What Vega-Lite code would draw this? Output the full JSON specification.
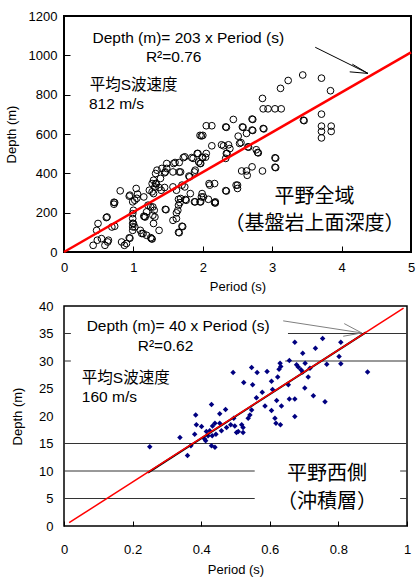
{
  "$schema": "https://vega.github.io/schema/vega-lite/v6.json",
  "autosize": {"type": "pad"},
  "padding": {"left": 4, "top": 9, "right": 0, "bottom": 0},
  "background": "white",
  "config": {"font": "Liberation Sans", "axis": {"labelColor": "#000", "titleColor": "#000", "labelFont": "Liberation Sans", "titleFont": "Liberation Sans", "titleFontWeight": "normal", "labelFontSize": 13, "titleFontSize": 13, "labelFlush": false, "labelBound": false, "labelOverlap": false}},
  "datasets": {
    "top_pts": [
      {"p":3.23,"d":872},{"p":3.12,"d":832},{"p":3.44,"d":900},{"p":3.71,"d":884},{"p":3.84,"d":820},{"p":2.86,"d":781},
      {"p":2.87,"d":728},{"p":2.94,"d":728},{"p":3.04,"d":728},{"p":3.13,"d":728},{"p":3.45,"d":670},{"p":3.46,"d":668},
      {"p":3.71,"d":701},{"p":3.71,"d":640},{"p":3.85,"d":640},{"p":3.71,"d":613},{"p":3.85,"d":613},{"p":3.71,"d":580},
      {"p":2.44,"d":674},{"p":2.71,"d":676},{"p":2.72,"d":674},{"p":2.33,"d":636},{"p":2.34,"d":634},{"p":2.57,"d":636},{"p":2.58,"d":634},
      {"p":2.71,"d":620},{"p":2.72,"d":618},{"p":2.87,"d":628},{"p":2.88,"d":626},{"p":2.05,"d":642},{"p":2.13,"d":642},
      {"p":1.96,"d":593},{"p":2.0,"d":593},{"p":1.98,"d":590},{"p":2.51,"d":589},{"p":2.63,"d":603},{"p":2.27,"d":545},{"p":2.37,"d":545},
      {"p":2.30,"d":540},{"p":2.13,"d":540},{"p":2.55,"d":556},{"p":2.77,"d":520},
      {"p":2.39,"d":526},{"p":2.53,"d":552},{"p":2.65,"d":535},{"p":2.66,"d":533},{"p":2.34,"d":501},{"p":2.33,"d":476},
      {"p":1.93,"d":501},{"p":2.05,"d":501},{"p":1.99,"d":482},{"p":2.04,"d":482},{"p":1.96,"d":450},{"p":1.86,"d":476},
      {"p":1.74,"d":484},{"p":1.60,"d":455},{"p":1.66,"d":455},{"p":1.57,"d":407},{"p":1.66,"d":407},{"p":1.45,"d":403},
      {"p":1.46,"d":407},{"p":1.34,"d":416},{"p":1.48,"d":425},{"p":1.31,"d":331},{"p":1.29,"d":365},{"p":1.37,"d":328},
      {"p":1.45,"d":328},{"p":1.57,"d":331},{"p":1.62,"d":314},{"p":1.74,"d":331},{"p":1.81,"d":382},{"p":1.88,"d":407},
      {"p":2.56,"d":412},{"p":2.63,"d":412},{"p":2.64,"d":390},{"p":2.71,"d":433},{"p":2.79,"d":506},{"p":2.80,"d":504},
      {"p":2.86,"d":412},{"p":3.04,"d":479},{"p":3.05,"d":477},{"p":3.04,"d":431},{"p":3.05,"d":429},{"p":2.50,"d":340},
      {"p":2.50,"d":323},{"p":2.33,"d":312},{"p":2.34,"d":310},{"p":2.17,"d":348},{"p":2.10,"d":340},{"p":2.09,"d":348},
      {"p":2.17,"d":251},{"p":2.18,"d":249},{"p":2.08,"d":268},{"p":1.98,"d":280},{"p":1.99,"d":297},{"p":1.96,"d":255},
      {"p":1.88,"d":255},{"p":1.76,"d":263},{"p":1.65,"d":268},{"p":1.67,"d":251},{"p":1.65,"d":238},{"p":1.64,"d":212},
      {"p":1.62,"d":199},{"p":1.57,"d":161},{"p":1.62,"d":170},{"p":1.65,"d":100},{"p":1.66,"d":98},{"p":1.70,"d":131},
      {"p":1.71,"d":129},{"p":1.46,"d":217},{"p":1.47,"d":215},{"p":1.31,"d":178},{"p":1.28,"d":229},{"p":1.37,"d":110},
      {"p":1.26,"d":68},{"p":1.27,"d":66},{"p":1.19,"d":85},{"p":1.14,"d":94},{"p":1.15,"d":182},{"p":1.16,"d":180},
      {"p":1.19,"d":204},{"p":1.21,"d":238},{"p":1.15,"d":280},{"p":1.05,"d":273},{"p":1.04,"d":323},{"p":0.99,"d":170},
      {"p":0.99,"d":146},{"p":0.99,"d":128},{"p":0.99,"d":110},{"p":0.99,"d":255},{"p":0.95,"d":289},{"p":0.81,"d":311},
      {"p":0.73,"d":131},{"p":0.72,"d":253},{"p":0.73,"d":251},{"p":0.72,"d":243},{"p":0.62,"d":178},{"p":0.49,"d":145},
      {"p":0.47,"d":110},{"p":0.54,"d":68},{"p":0.63,"d":51},{"p":0.42,"d":34},{"p":0.59,"d":34},{"p":0.83,"d":51},
      {"p":0.87,"d":34},{"p":0.90,"d":43},{"p":0.94,"d":72},{"p":0.95,"d":70},
      {"p":1.06,"d":294},{"p":1.02,"d":263},{"p":1.25,"d":73},{"p":1.29,"d":145},{"p":1.28,"d":187},{"p":1.30,"d":212},
      {"p":1.25,"d":229},{"p":1.23,"d":314},{"p":1.27,"d":306},{"p":1.29,"d":297},{"p":1.27,"d":348},{"p":1.32,"d":348},
      {"p":1.33,"d":346},{"p":1.40,"d":314},{"p":1.39,"d":374},{"p":1.32,"d":399},{"p":1.70,"d":340},{"p":1.41,"d":425},
      {"p":1.48,"d":450},{"p":1.58,"d":450},{"p":1.68,"d":407},{"p":1.72,"d":480},{"p":1.84,"d":480},{"p":1.80,"d":386},
      {"p":1.89,"d":416},{"p":1.92,"d":501},{"p":1.94,"d":458},{"p":1.97,"d":450},{"p":2.00,"d":480},{"p":1.82,"d":297},
      {"p":1.89,"d":255},{"p":1.97,"d":255},{"p":2.01,"d":280},{"p":2.18,"d":255},{"p":2.48,"d":340},{"p":2.35,"d":501},
      {"p":1.68,"d":272},{"p":1.75,"d":267},{"p":1.17,"d":178},{"p":1.12,"d":94},{"p":1.10,"d":110},{"p":1.02,"d":127},
      {"p":1.00,"d":145},{"p":0.94,"d":284},{"p":0.61,"d":175},{"p":0.69,"d":127},{"p":0.48,"d":60},{"p":0.64,"d":60},
      {"p":0.99,"d":195},{"p":1.00,"d":212}
    ],
    "bot_pts": [
      {"p":0.673,"d":33.4},{"p":0.754,"d":34.1},{"p":0.807,"d":33.4},{"p":0.733,"d":32.3},{"p":0.696,"d":31.4},{"p":0.802,"d":30.8},
      {"p":0.657,"d":30.1},{"p":0.630,"d":29.6},{"p":0.632,"d":29.0},{"p":0.678,"d":29.3},{"p":0.683,"d":28.9},{"p":0.703,"d":29.6},
      {"p":0.766,"d":29.4},{"p":0.807,"d":29.5},{"p":0.691,"d":28.4},{"p":0.696,"d":28.0},{"p":0.717,"d":28.7},{"p":0.885,"d":28.0},
      {"p":0.563,"d":27.9},{"p":0.592,"d":28.1},{"p":0.547,"d":28.8},{"p":0.627,"d":28.5},{"p":0.623,"d":27.1},{"p":0.712,"d":27.1},
      {"p":0.654,"d":25.7},{"p":0.702,"d":25.1},{"p":0.605,"d":26.3},{"p":0.550,"d":25.7},{"p":0.608,"d":24.8},{"p":0.578,"d":24.3},
      {"p":0.727,"d":23.7},{"p":0.657,"d":23.1},{"p":0.673,"d":23.1},{"p":0.620,"d":22.8},{"p":0.561,"d":23.3},{"p":0.761,"d":22.6},
      {"p":0.586,"d":21.8},{"p":0.634,"d":21.8},{"p":0.605,"d":21.0},{"p":0.547,"d":21.1},{"p":0.542,"d":20.2},{"p":0.615,"d":19.6},
      {"p":0.673,"d":19.9},{"p":0.618,"d":18.7},{"p":0.631,"d":18.4},{"p":0.493,"d":27.9},{"p":0.524,"d":26.1},{"p":0.495,"d":19.6},
      {"p":0.430,"d":22.1},{"p":0.471,"d":21.2},{"p":0.384,"d":20.2},{"p":0.386,"d":18.4},{"p":0.401,"d":18.1},{"p":0.433,"d":18.2},
      {"p":0.454,"d":18.7},{"p":0.498,"d":18.2},{"p":0.518,"d":18.4},{"p":0.522,"d":17.9},{"p":0.486,"d":18.4},{"p":0.454,"d":20.4},
      {"p":0.338,"d":16.1},{"p":0.381,"d":16.7},{"p":0.415,"d":17.2},{"p":0.420,"d":16.4},{"p":0.410,"d":15.8},{"p":0.413,"d":15.5},
      {"p":0.432,"d":16.4},{"p":0.443,"d":16.7},{"p":0.459,"d":17.3},{"p":0.474,"d":17.9},{"p":0.503,"d":17.0},{"p":0.522,"d":17.0},
      {"p":0.508,"d":17.2},{"p":0.537,"d":19.6},{"p":0.370,"d":14.6},{"p":0.430,"d":14.6},{"p":0.440,"d":14.3},{"p":0.250,"d":14.4},
      {"p":0.360,"d":12.8},{"p":0.425,"d":17.3},{"p":0.440,"d":18.7}
    ],
    "top_lines": [
      {"kind":"fit","x":0,"y":0,"x2":5,"y2":1015},
      {"kind":"arrow","x":3.62,"y":1041,"x2":4.38,"y2":908},
      {"kind":"arrow","x":4.155,"y":955,"x2":4.38,"y2":908},
      {"kind":"arrow","x":4.117,"y":916,"x2":4.38,"y2":908}
    ],
    "bot_lines": [
      {"kind":"grid","x":0.653,"y":35,"x2":1,"y2":35},
      {"kind":"grid","x":0,"y":35,"x2":0.02,"y2":35},
      {"kind":"grid","x":0.645,"y":30,"x2":1,"y2":30},
      {"kind":"grid","x":0,"y":30,"x2":0.02,"y2":30},
      {"kind":"grid","x":0,"y":15,"x2":1,"y2":15},
      {"kind":"grid","x":0,"y":10,"x2":0.556,"y2":10},
      {"kind":"grid","x":0.98,"y":10,"x2":1,"y2":10},
      {"kind":"grid","x":0,"y":5,"x2":0.556,"y2":5},
      {"kind":"grid","x":0.98,"y":5,"x2":1,"y2":5},
      {"kind":"arrow","x":0.639,"y":37.3,"x2":0.868,"y2":35.1},
      {"kind":"arrow","x":0.817,"y":36.8,"x2":0.868,"y2":35.1},
      {"kind":"arrow","x":0.814,"y":34.5,"x2":0.868,"y2":35.1},
      {"kind":"trend","x":0.245,"y":9.7,"x2":0.88,"y2":35.2},
      {"kind":"fit","x":0.015,"y":0.6,"x2":0.99,"y2":39.6}
    ],
    "top_text": [
      {"kind":"small","t":"Depth (m)= 203 x Period (s)","x":0.41,"y":1086},
      {"kind":"small","t":"R²=0.76","x":1.18,"y":991},
      {"kind":"small","t":"平均S波速度","x":0.37,"y":849},
      {"kind":"small","t":"812 m/s","x":0.36,"y":752},
      {"kind":"big","t":"平野全域","x":3.61,"y":279},
      {"kind":"big","t":"（基盤岩上面深度）","x":3.61,"y":141}
    ],
    "bot_text": [
      {"kind":"small","t":"Depth (m)= 40 x Period (s)","x":0.066,"y":36.3},
      {"kind":"small","t":"R²=0.62","x":0.215,"y":32.8},
      {"kind":"small","t":"平均S波速度","x":0.052,"y":27.0},
      {"kind":"small","t":"160 m/s","x":0.052,"y":23.5},
      {"kind":"big","t":"平野西側","x":0.767,"y":9.5},
      {"kind":"big","t":"（沖積層）","x":0.767,"y":4.4}
    ]
  },
  "vconcat": [
    {
      "width": 347,
      "height": 236,
      "view": {"stroke": "black", "strokeWidth": 2},
      "encoding": {
        "x": {"field": "x", "type": "quantitative", "scale": {"domain": [0, 5], "nice": false, "zero": false},
          "axis": {"title": "Period (s)", "values": [0,1,2,3,4,5], "format": "d", "grid": false, "domain": false, "tickSize": -6, "tickColor": "#000", "tickWidth": 1, "labelPadding": 15, "titlePadding": 6}},
        "y": {"field": "y", "type": "quantitative", "scale": {"domain": [0, 1200], "nice": false, "zero": false},
          "axis": {"title": "Depth (m)", "values": [0,200,400,600,800,1000,1200], "format": "d", "grid": false, "domain": false, "tickSize": -6, "tickColor": "#000", "tickWidth": 1, "labelPadding": 13, "titlePadding": 10}}
      },
      "layer": [
        {"data": {"name": "top_pts"}, "mark": {"type": "point", "shape": "circle", "filled": false, "stroke": "#000", "strokeWidth": 1, "size": 45, "opacity": 1},
          "encoding": {"x": {"field": "p", "type": "quantitative"}, "y": {"field": "d", "type": "quantitative"}}},
        {"data": {"name": "top_lines"}, "transform": [{"filter": "datum.kind == 'fit'"}], "mark": {"type": "rule", "color": "#ff0000", "strokeWidth": 2.5},
          "encoding": {"x2": {"field": "x2"}, "y2": {"field": "y2"}}},
        {"data": {"name": "top_lines"}, "transform": [{"filter": "datum.kind == 'arrow'"}], "mark": {"type": "rule", "color": "#000", "strokeWidth": 1},
          "encoding": {"x2": {"field": "x2"}, "y2": {"field": "y2"}}},
        {"data": {"name": "top_text"}, "transform": [{"filter": "datum.kind == 'small'"}], "mark": {"type": "text", "align": "left", "baseline": "middle", "fontSize": 15.5, "font": "Liberation Sans, Noto Sans CJK JP", "color": "#000"},
          "encoding": {"text": {"field": "t"}}},
        {"data": {"name": "top_text"}, "transform": [{"filter": "datum.kind == 'big'"}], "mark": {"type": "text", "align": "center", "baseline": "middle", "fontSize": 20, "font": "Noto Sans CJK JP", "color": "#000"},
          "encoding": {"text": {"field": "t"}}}
      ]
    },
    {
      "width": 343,
      "height": 220,
      "view": {"stroke": "black", "strokeWidth": 1.5},
      "encoding": {
        "x": {"field": "x", "type": "quantitative", "scale": {"domain": [0, 1], "nice": false, "zero": false},
          "axis": {"title": "Period (s)", "values": [0,0.2,0.4,0.6,0.8,1], "format": "~g", "grid": false, "domain": false, "tickSize": -5, "tickColor": "#000", "tickWidth": 1, "labelPadding": 22, "titlePadding": 7}},
        "y": {"field": "y", "type": "quantitative", "scale": {"domain": [0, 40], "nice": false, "zero": false},
          "axis": {"title": "Depth (m)", "values": [0,5,10,15,20,25,30,35,40], "format": "d", "grid": false, "domain": false, "ticks": false, "tickSize": 0, "labelPadding": 11, "titlePadding": 14}}
      },
      "layer": [
        {"data": {"name": "bot_lines"}, "transform": [{"filter": "datum.kind == 'grid'"}], "mark": {"type": "rule", "color": "#333", "strokeWidth": 1},
          "encoding": {"x2": {"field": "x2"}, "y2": {"field": "y2"}}},
        {"data": {"name": "bot_lines"}, "transform": [{"filter": "datum.kind == 'arrow'"}], "mark": {"type": "rule", "color": "#808080", "strokeWidth": 1},
          "encoding": {"x2": {"field": "x2"}, "y2": {"field": "y2"}}},
        {"data": {"name": "bot_pts"}, "mark": {"type": "point", "shape": "diamond", "filled": true, "color": "#000080", "size": 30, "opacity": 1},
          "encoding": {"x": {"field": "p", "type": "quantitative"}, "y": {"field": "d", "type": "quantitative"}}},
        {"data": {"name": "bot_lines"}, "transform": [{"filter": "datum.kind == 'trend'"}], "mark": {"type": "rule", "color": "#000", "strokeWidth": 2},
          "encoding": {"x2": {"field": "x2"}, "y2": {"field": "y2"}}},
        {"data": {"name": "bot_lines"}, "transform": [{"filter": "datum.kind == 'fit'"}], "mark": {"type": "rule", "color": "#ff0000", "strokeWidth": 1.5},
          "encoding": {"x2": {"field": "x2"}, "y2": {"field": "y2"}}},
        {"data": {"name": "bot_text"}, "transform": [{"filter": "datum.kind == 'small'"}], "mark": {"type": "text", "align": "left", "baseline": "middle", "fontSize": 15.5, "font": "Liberation Sans, Noto Sans CJK JP", "color": "#000"},
          "encoding": {"text": {"field": "t"}}},
        {"data": {"name": "bot_text"}, "transform": [{"filter": "datum.kind == 'big'"}], "mark": {"type": "text", "align": "center", "baseline": "middle", "fontSize": 20, "font": "Noto Sans CJK JP", "color": "#000"},
          "encoding": {"text": {"field": "t"}}}
      ]
    }
  ],
  "spacing": 54,
  "bounds": "flush"
}
